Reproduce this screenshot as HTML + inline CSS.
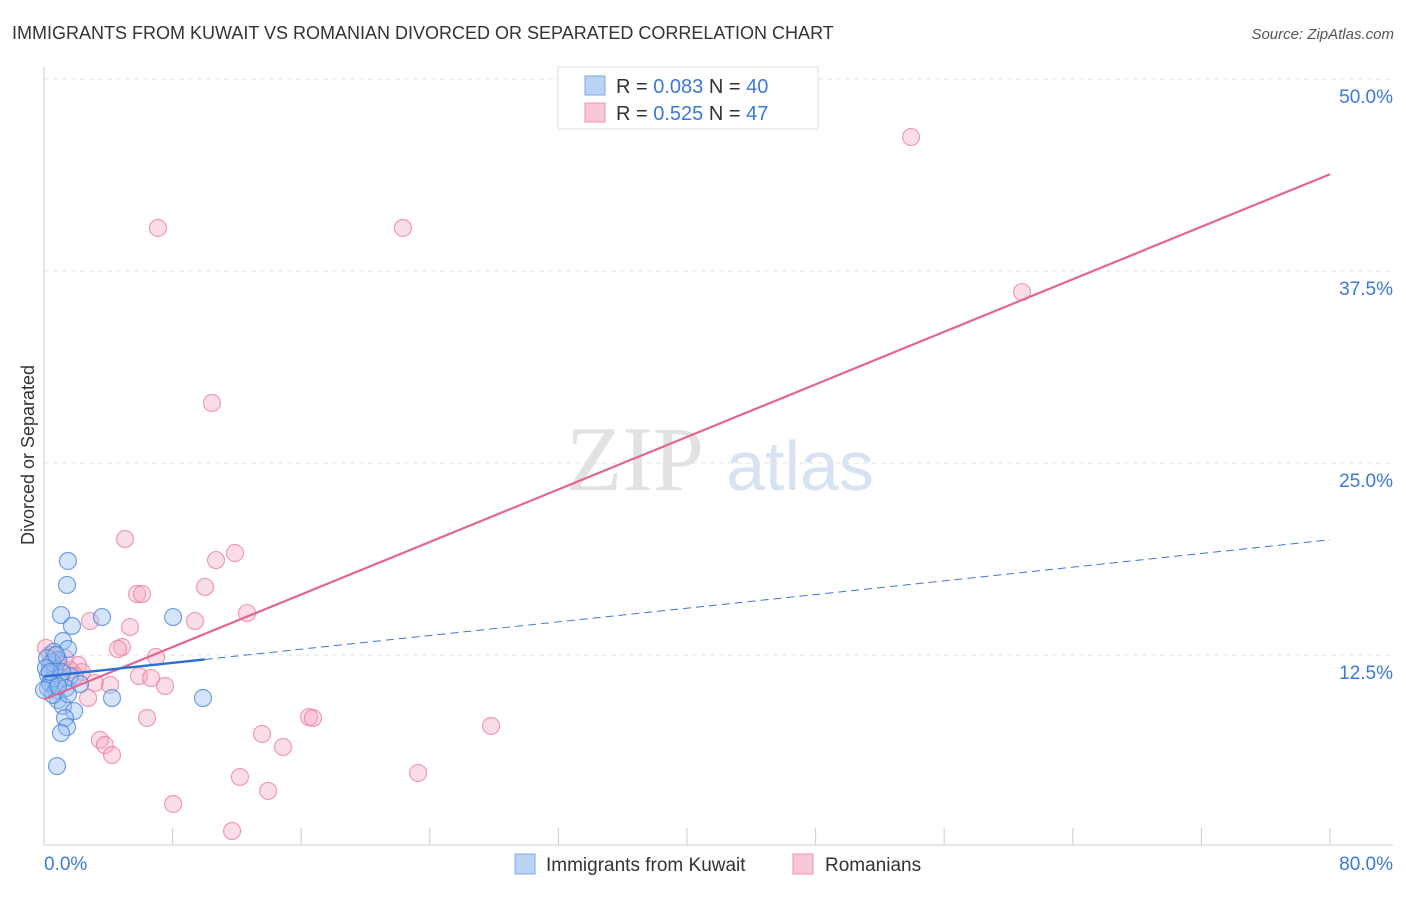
<!DOCTYPE html>
<html><head><meta charset="utf-8"><style>
body{margin:0;background:#fff;font-family:"Liberation Sans",sans-serif;}
</style></head><body>
<svg id="c" width="1406" height="892" xmlns="http://www.w3.org/2000/svg" font-family="Liberation Sans, sans-serif">
<text x="12" y="39" font-size="18" fill="#333">IMMIGRANTS FROM KUWAIT VS ROMANIAN DIVORCED OR SEPARATED CORRELATION CHART</text>
<text x="1394" y="39" font-size="15" fill="#555" font-style="italic" text-anchor="end">Source: ZipAtlas.com</text>
<text x="34" y="455" font-size="18" fill="#333" transform="rotate(-90 34 455)" text-anchor="middle">Divorced or Separated</text>
<g><text x="635" y="490" font-size="92" fill="#e2e2e2" font-family="Liberation Serif, serif" text-anchor="middle">ZIP</text><text x="800" y="490" font-size="70" fill="#d7e3f3" text-anchor="middle">atlas</text></g>
<g id="grid"></g><g id="axes"></g><g id="pts"></g><g id="lines"></g>
<g>
<rect x="558" y="67" width="260" height="62" fill="#fff" stroke="#ddd"/>
<rect x="585" y="76" width="20" height="19" fill="#b9d3f5" stroke="#7aa8e6"/>
<rect x="585" y="103" width="20" height="19" fill="#f9c6d6" stroke="#ee97b2"/>
<text x="616" y="93" font-size="20" fill="#333">R = <tspan fill="#3b78d8">0.083</tspan>   N = <tspan fill="#3b78d8">40</tspan></text>
<text x="616" y="120" font-size="20" fill="#333">R = <tspan fill="#3b78d8">0.525</tspan>   N = <tspan fill="#3b78d8">47</tspan></text>
</g>
<g>
<rect x="515" y="854" width="20" height="20" fill="#b9d3f5" stroke="#7aa8e6"/>
<text x="546" y="871" font-size="19" fill="#333">Immigrants from Kuwait</text>
<rect x="793" y="854" width="20" height="20" fill="#f9c6d6" stroke="#ee97b2"/>
<text x="825" y="871" font-size="19" fill="#333">Romanians</text>
</g>
</svg>
<script>
const yTicks=[12.5,25,37.5,50];
const yTickLabels=["12.5%","25.0%","37.5%","50.0%"];
const xTicks=[0,8,16,24,32,40,48,56,64,72,80];
const blueX=[1.49,1.43,1.06,3.61,1.74,1.18,1.49,8.03,0.62,0.87,0.37,0.68,0.25,0.50,1.00,1.62,0.25,0.75,1.37,2.24,0.87,1.18,1.87,4.23,9.89,1.31,1.43,1.06,0.81,0.50,0.19,0.37,1.12,0.75,0.12,0.56,1.49,0.0,0.87,0.37];
const blueY=[18.62,17.06,15.10,14.97,14.39,13.41,12.89,14.97,12.70,12.17,11.85,11.52,11.20,10.87,11.00,11.13,10.35,10.22,10.35,10.61,9.57,9.18,8.85,9.70,9.70,8.40,7.81,7.42,5.27,12.04,12.30,10.68,11.39,12.50,11.65,9.90,9.96,10.22,10.48,11.39];
const pinkX=[53.94,7.09,22.33,60.84,10.45,5.04,10.70,11.88,10.02,5.79,6.10,9.39,12.63,2.86,5.35,4.85,4.60,6.97,0.12,0.75,2.12,2.36,3.17,4.11,5.91,6.66,7.53,2.74,6.41,3.48,3.79,4.23,13.56,14.87,16.49,16.73,27.81,12.19,13.94,23.27,8.03,11.70,1.00,1.62,0.37,1.31,1.93];
const pinkY=[46.22,40.30,40.30,36.13,28.91,20.05,18.68,19.14,16.93,16.47,16.47,14.71,15.23,14.71,14.32,13.02,12.89,12.37,12.96,12.17,11.85,11.39,10.68,10.55,11.13,11.00,10.48,9.70,8.40,6.97,6.64,5.99,7.36,6.51,8.46,8.40,7.88,4.56,3.65,4.82,2.80,1.04,11.85,11.52,12.50,12.30,11.13];
const pinkTrend=[9.6,43.8];
const blueTrend=[11.1,20.0];
const blueSolidEnd=10;
const X=v=>44+v/80*1286, Y=v=>847-v*15.36;
const NS="http://www.w3.org/2000/svg";
function mk(parent,tag,attrs){const e=document.createElementNS(NS,tag);for(const k in attrs)e.setAttribute(k,attrs[k]);document.getElementById(parent).appendChild(e);return e;}
yTicks.forEach((t,i)=>{
 const g=mk('grid','line',{x1:44,x2:1393,y1:Y(t),y2:Y(t),stroke:'#e3e3e3','stroke-dasharray':'5,4'});
 
 
 const l=mk('grid','text',{x:1393,y:Y(t)+24,'font-size':19,fill:'#3b78d8','text-anchor':'end'});
 l.textContent=yTickLabels[i];
 
 
});
let ax=mk('axes','line',{x1:44,x2:44,y1:67,y2:845,stroke:'#ccc'});


ax=mk('axes','line',{x1:44,x2:1393,y1:845,y2:845,stroke:'#ccc'});


xTicks.forEach(t=>{const e=mk('axes','line',{x1:X(t),x2:X(t),y1:828,y2:845,stroke:'#ccc'});
 
 });
let xl=mk('axes','text',{x:44,y:870,'font-size':19,fill:'#3b78d8'});xl.textContent='0.0%';


xl=mk('axes','text',{x:1393,y:870,'font-size':19,fill:'#3b78d8','text-anchor':'end'});xl.textContent='80.0%';


pinkX.forEach((v,i)=>{const c=mk('pts','circle',{cx:X(v),cy:Y(pinkY[i]),r:8.5,fill:'rgba(246,170,195,0.4)',stroke:'rgba(232,120,155,0.7)','stroke-width':1.2});
 
 });
blueX.forEach((v,i)=>{const c=mk('pts','circle',{cx:X(v),cy:Y(blueY[i]),r:8.5,fill:'rgba(150,190,240,0.4)',stroke:'rgba(70,130,220,0.75)','stroke-width':1.2});
 
 });
let ln=mk('lines','line',{x1:X(0),y1:Y(pinkTrend[0]),x2:X(80),y2:Y(pinkTrend[1]),stroke:'#e3668f','stroke-width':2.2});


const bAt=v=>blueTrend[0]+(blueTrend[1]-blueTrend[0])*v/80;
ln=mk('lines','line',{x1:X(blueSolidEnd),y1:Y(bAt(blueSolidEnd)),x2:X(80),y2:Y(blueTrend[1]),stroke:'#3b78d8','stroke-width':1,'stroke-dasharray':'8,5'});


ln=mk('lines','line',{x1:X(0),y1:Y(blueTrend[0]),x2:X(blueSolidEnd),y2:Y(bAt(blueSolidEnd)),stroke:'#2a6fd6','stroke-width':2.4});


</script>
</body></html>
